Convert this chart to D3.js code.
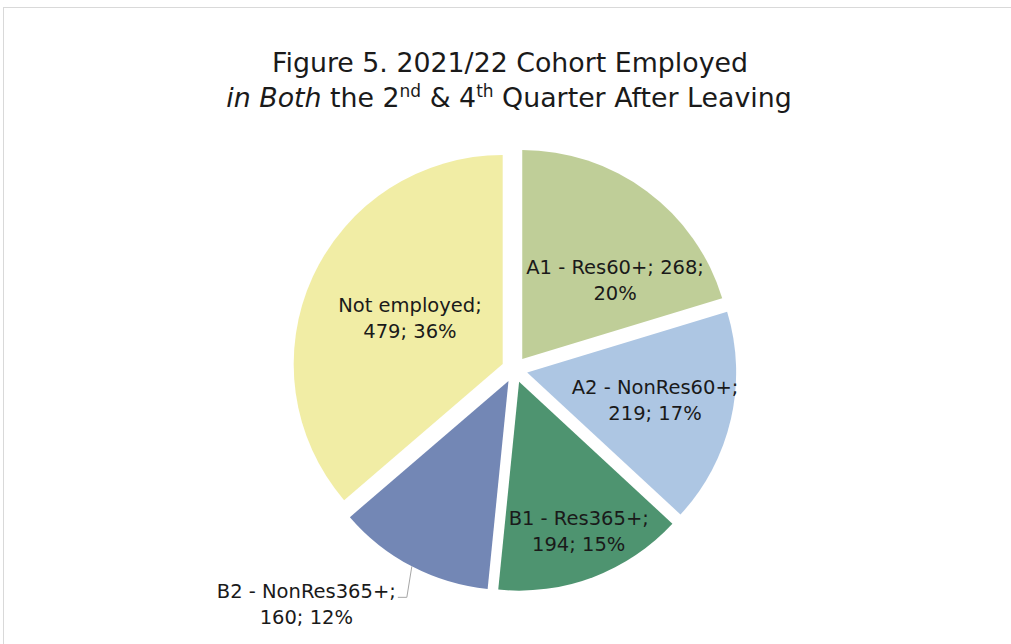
<!DOCTYPE html>
<html>
<head>
<meta charset="utf-8">
<script src="https://cdn.jsdelivr.net/npm/d3@7"></script>
<style>
  body { margin: 0; background: #fff; }
  text { font-family: "DejaVu Sans", sans-serif; fill: #1a1a1a; }
</style>
</head>
<body>
<script>
// chart data
var categories = ["A1 - Res60+", "A2 - NonRes60+", "B1 - Res365+", "B2 - NonRes365+", "Not employed"];
var counts = [268, 219, 194, 160, 479];
var percents = [20, 17, 15, 12, 36];
var colors = ["#bfce98", "#adc6e3", "#4e9470", "#7387b5", "#f1eda5"];

var width = 1011,
    height = 644,
    cx = 514.5,
    cy = 369.5,
    radius = 209,
    explode = 13;

// label placement: angle tweak (deg) from slice middle, distance from centre
var labelLayout = {
    "A1 - Res60+": { da: 11.8, dist: 134.6 },
    "A2 - NonRes60+": { da: -0.7, dist: 143.8 },
    "B1 - Res365+": { da: -0.9, dist: 174.2 },
    "B2 - NonRes365+": { outside: true },
    "Not employed": { da: 1.5, dist: 116.5 }
};

var rows = categories.map(function (c, i) {
    return { name: c, count: counts[i], pct: percents[i], color: colors[i] };
});

var svg = d3.select("body").append("svg")
    .attr("width", width)
    .attr("height", height);

// frame
svg.append("rect")
    .attr("x", 3.5).attr("y", 7.5)
    .attr("width", 1100).attr("height", 700)
    .attr("fill", "none")
    .attr("stroke", "#d9d9d9")
    .attr("stroke-width", 1);

// title
var title = svg.append("text")
    .attr("text-anchor", "middle")
    .attr("font-size", 26.8);
title.append("tspan").attr("x", 510).attr("y", 72)
    .text("Figure 5. 2021/22 Cohort Employed");
var t2 = title.append("tspan").attr("x", 509).attr("y", 107);
t2.append("tspan").attr("font-style", "italic").text("in Both");
t2.append("tspan").text(" the 2");
t2.append("tspan").attr("font-size", 17).attr("dy", -10).text("nd");
t2.append("tspan").attr("dy", 10).text(" & 4");
t2.append("tspan").attr("font-size", 17).attr("dy", -10).text("th");
t2.append("tspan").attr("dy", 10).text(" Quarter After Leaving");

var pie = d3.pie()
    .sort(null)
    .value(function (d) { return d.count; });

var arc = d3.arc()
    .innerRadius(0)
    .outerRadius(radius);

var arcs = pie(rows);

function dir(a) { return [Math.sin(a), -Math.cos(a)]; }

var g = svg.append("g").attr("transform", "translate(" + cx + "," + cy + ")");

g.selectAll("path.slice")
    .data(arcs)
    .enter().append("path")
    .attr("class", "slice")
    .attr("d", arc)
    .attr("fill", function (d) { return d.data.color; })
    .attr("transform", function (d) {
        var v = dir((d.startAngle + d.endAngle) / 2);
        return "translate(" + v[0] * explode + "," + v[1] * explode + ")";
    });

var fs = 19.5, lh = 26;

arcs.forEach(function (d) {
    var lay = labelLayout[d.data.name];
    var mid = (d.startAngle + d.endAngle) / 2;
    var line1, line2, lx, ly;
    if (d.data.name === "A1 - Res60+") {
        line1 = d.data.name + "; " + d.data.count + ";";
        line2 = d.data.pct + "%";
    } else {
        line1 = d.data.name + ";";
        line2 = d.data.count + "; " + d.data.pct + "%";
    }
    var t = g.append("text")
        .attr("text-anchor", "middle")
        .attr("font-size", fs);
    var s1 = t.append("tspan").text(line1);
    var s2 = t.append("tspan").text(line2);
    if (!lay.outside) {
        var v = dir(mid + lay.da * Math.PI / 180);
        lx = v[0] * lay.dist;
        ly = v[1] * lay.dist;
    } else {
        // leader line from the slice edge down to the label
        var v2 = dir(mid);
        var ex = v2[0] * (radius + explode), ey = v2[1] * (radius + explode);
        var hx = ex - 5, hy = ey + 31;
        g.append("polyline")
            .attr("points", [[ex, ey], [hx, hy], [hx - 9, hy]].join(" "))
            .attr("fill", "none")
            .attr("stroke", "#a6a6a6")
            .attr("stroke-width", 1);
        var w1 = s1.node().getComputedTextLength();
        lx = hx - 9 - 2 - w1 / 2;
        ly = hy + 7;
    }
    s1.attr("x", lx).attr("y", ly - lh / 2 + 7);
    s2.attr("x", lx).attr("y", ly + lh / 2 + 7);
});
</script>
</body>
</html>
